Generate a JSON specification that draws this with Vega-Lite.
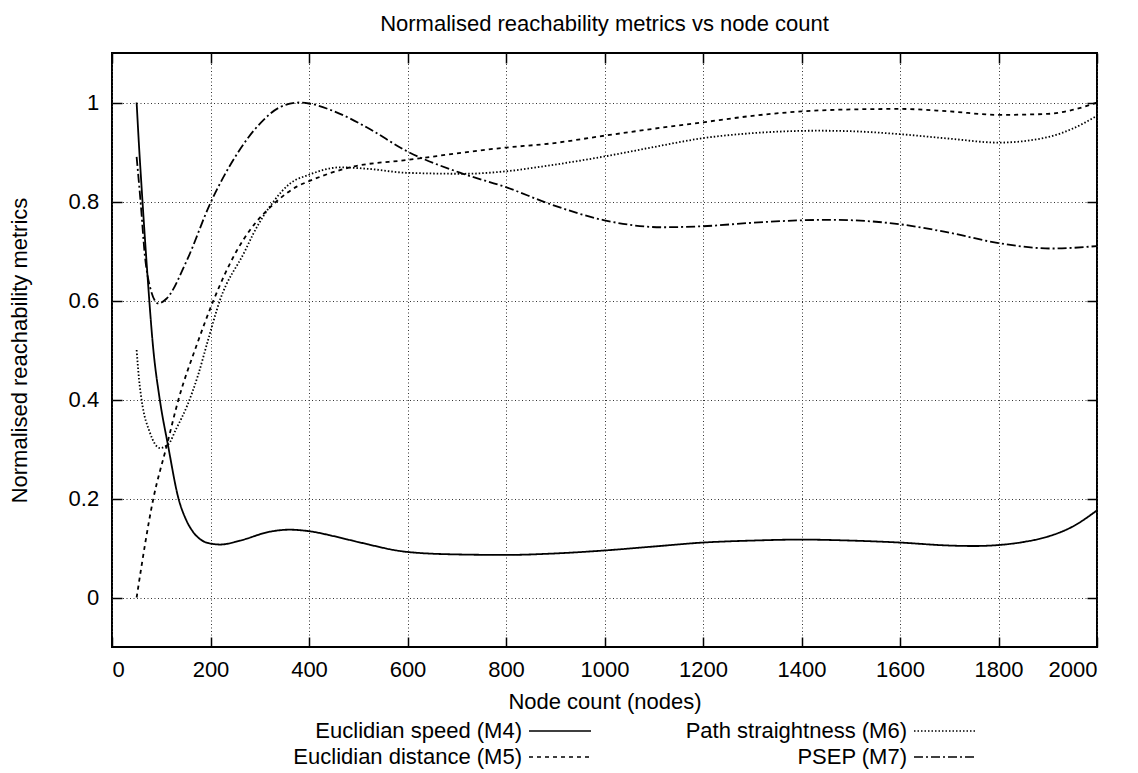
{
  "$schema": "https://vega.github.io/schema/vega-lite/v6.json",
  "width": 985,
  "height": 594,
  "autosize": {"type": "none"},
  "padding": {"left": 112, "top": 53, "right": 41, "bottom": 126},
  "background": "white",
  "title": {"text": "Normalised reachability metrics vs node count", "font": "Liberation Sans", "fontSize": 22, "fontWeight": "normal", "anchor": "middle", "offset": 23, "dy": 24, "baseline": "alphabetic", "color": "black"},
  "config": {"view": {"stroke": "black", "strokeWidth": 2}, "font": "Liberation Sans"},
  "data": {"values": [
    {"n":50,"v":1.0,"s":"Euclidian speed (M4)"},{"n":55,"v":0.91,"s":"Euclidian speed (M4)"},{"n":60,"v":0.83,"s":"Euclidian speed (M4)"},{"n":70,"v":0.68,"s":"Euclidian speed (M4)"},{"n":84,"v":0.50,"s":"Euclidian speed (M4)"},{"n":97,"v":0.40,"s":"Euclidian speed (M4)"},{"n":114,"v":0.306,"s":"Euclidian speed (M4)"},{"n":135,"v":0.20,"s":"Euclidian speed (M4)"},{"n":150,"v":0.158,"s":"Euclidian speed (M4)"},{"n":165,"v":0.132,"s":"Euclidian speed (M4)"},{"n":180,"v":0.117,"s":"Euclidian speed (M4)"},{"n":200,"v":0.109,"s":"Euclidian speed (M4)"},{"n":220,"v":0.107,"s":"Euclidian speed (M4)"},{"n":260,"v":0.115,"s":"Euclidian speed (M4)"},{"n":321,"v":0.133,"s":"Euclidian speed (M4)"},{"n":360,"v":0.137,"s":"Euclidian speed (M4)"},{"n":400,"v":0.134,"s":"Euclidian speed (M4)"},{"n":450,"v":0.124,"s":"Euclidian speed (M4)"},{"n":500,"v":0.112,"s":"Euclidian speed (M4)"},{"n":600,"v":0.092,"s":"Euclidian speed (M4)"},{"n":700,"v":0.087,"s":"Euclidian speed (M4)"},{"n":800,"v":0.086,"s":"Euclidian speed (M4)"},{"n":900,"v":0.089,"s":"Euclidian speed (M4)"},{"n":1000,"v":0.095,"s":"Euclidian speed (M4)"},{"n":1100,"v":0.103,"s":"Euclidian speed (M4)"},{"n":1200,"v":0.111,"s":"Euclidian speed (M4)"},{"n":1300,"v":0.115,"s":"Euclidian speed (M4)"},{"n":1400,"v":0.117,"s":"Euclidian speed (M4)"},{"n":1500,"v":0.115,"s":"Euclidian speed (M4)"},{"n":1600,"v":0.111,"s":"Euclidian speed (M4)"},{"n":1700,"v":0.105,"s":"Euclidian speed (M4)"},{"n":1750,"v":0.104,"s":"Euclidian speed (M4)"},{"n":1800,"v":0.106,"s":"Euclidian speed (M4)"},{"n":1850,"v":0.112,"s":"Euclidian speed (M4)"},{"n":1900,"v":0.123,"s":"Euclidian speed (M4)"},{"n":1950,"v":0.143,"s":"Euclidian speed (M4)"},{"n":2000,"v":0.176,"s":"Euclidian speed (M4)"},
    {"n":50,"v":0.0,"s":"Euclidian distance (M5)"},{"n":84,"v":0.20,"s":"Euclidian distance (M5)"},{"n":111,"v":0.306,"s":"Euclidian distance (M5)"},{"n":135,"v":0.40,"s":"Euclidian distance (M5)"},{"n":172,"v":0.51,"s":"Euclidian distance (M5)"},{"n":206,"v":0.60,"s":"Euclidian distance (M5)"},{"n":253,"v":0.70,"s":"Euclidian distance (M5)"},{"n":280,"v":0.742,"s":"Euclidian distance (M5)"},{"n":334,"v":0.80,"s":"Euclidian distance (M5)"},{"n":375,"v":0.830,"s":"Euclidian distance (M5)"},{"n":400,"v":0.841,"s":"Euclidian distance (M5)"},{"n":483,"v":0.869,"s":"Euclidian distance (M5)"},{"n":600,"v":0.884,"s":"Euclidian distance (M5)"},{"n":800,"v":0.909,"s":"Euclidian distance (M5)"},{"n":889,"v":0.917,"s":"Euclidian distance (M5)"},{"n":1000,"v":0.933,"s":"Euclidian distance (M5)"},{"n":1100,"v":0.947,"s":"Euclidian distance (M5)"},{"n":1200,"v":0.960,"s":"Euclidian distance (M5)"},{"n":1300,"v":0.973,"s":"Euclidian distance (M5)"},{"n":1400,"v":0.982,"s":"Euclidian distance (M5)"},{"n":1500,"v":0.986,"s":"Euclidian distance (M5)"},{"n":1600,"v":0.987,"s":"Euclidian distance (M5)"},{"n":1700,"v":0.982,"s":"Euclidian distance (M5)"},{"n":1800,"v":0.975,"s":"Euclidian distance (M5)"},{"n":1900,"v":0.977,"s":"Euclidian distance (M5)"},{"n":1950,"v":0.985,"s":"Euclidian distance (M5)"},{"n":2000,"v":1.0,"s":"Euclidian distance (M5)"},
    {"n":50,"v":0.50,"s":"Path straightness (M6)"},{"n":55,"v":0.44,"s":"Path straightness (M6)"},{"n":60,"v":0.40,"s":"Path straightness (M6)"},{"n":77,"v":0.333,"s":"Path straightness (M6)"},{"n":97,"v":0.302,"s":"Path straightness (M6)"},{"n":114,"v":0.309,"s":"Path straightness (M6)"},{"n":130,"v":0.34,"s":"Path straightness (M6)"},{"n":152,"v":0.386,"s":"Path straightness (M6)"},{"n":175,"v":0.45,"s":"Path straightness (M6)"},{"n":195,"v":0.52,"s":"Path straightness (M6)"},{"n":219,"v":0.60,"s":"Path straightness (M6)"},{"n":270,"v":0.70,"s":"Path straightness (M6)"},{"n":287,"v":0.735,"s":"Path straightness (M6)"},{"n":328,"v":0.80,"s":"Path straightness (M6)"},{"n":361,"v":0.836,"s":"Path straightness (M6)"},{"n":400,"v":0.854,"s":"Path straightness (M6)"},{"n":463,"v":0.869,"s":"Path straightness (M6)"},{"n":520,"v":0.866,"s":"Path straightness (M6)"},{"n":598,"v":0.858,"s":"Path straightness (M6)"},{"n":713,"v":0.856,"s":"Path straightness (M6)"},{"n":800,"v":0.861,"s":"Path straightness (M6)"},{"n":889,"v":0.873,"s":"Path straightness (M6)"},{"n":1000,"v":0.891,"s":"Path straightness (M6)"},{"n":1100,"v":0.910,"s":"Path straightness (M6)"},{"n":1200,"v":0.928,"s":"Path straightness (M6)"},{"n":1300,"v":0.938,"s":"Path straightness (M6)"},{"n":1433,"v":0.943,"s":"Path straightness (M6)"},{"n":1500,"v":0.942,"s":"Path straightness (M6)"},{"n":1600,"v":0.936,"s":"Path straightness (M6)"},{"n":1700,"v":0.927,"s":"Path straightness (M6)"},{"n":1800,"v":0.919,"s":"Path straightness (M6)"},{"n":1900,"v":0.930,"s":"Path straightness (M6)"},{"n":1950,"v":0.947,"s":"Path straightness (M6)"},{"n":2000,"v":0.973,"s":"Path straightness (M6)"},
    {"n":50,"v":0.89,"s":"PSEP (M7)"},{"n":58,"v":0.80,"s":"PSEP (M7)"},{"n":67,"v":0.688,"s":"PSEP (M7)"},{"n":77,"v":0.628,"s":"PSEP (M7)"},{"n":94,"v":0.594,"s":"PSEP (M7)"},{"n":111,"v":0.604,"s":"PSEP (M7)"},{"n":152,"v":0.681,"s":"PSEP (M7)"},{"n":199,"v":0.795,"s":"PSEP (M7)"},{"n":250,"v":0.89,"s":"PSEP (M7)"},{"n":300,"v":0.957,"s":"PSEP (M7)"},{"n":340,"v":0.99,"s":"PSEP (M7)"},{"n":380,"v":1.0,"s":"PSEP (M7)"},{"n":400,"v":0.998,"s":"PSEP (M7)"},{"n":449,"v":0.983,"s":"PSEP (M7)"},{"n":517,"v":0.950,"s":"PSEP (M7)"},{"n":598,"v":0.902,"s":"PSEP (M7)"},{"n":713,"v":0.856,"s":"PSEP (M7)"},{"n":800,"v":0.829,"s":"PSEP (M7)"},{"n":889,"v":0.795,"s":"PSEP (M7)"},{"n":1000,"v":0.762,"s":"PSEP (M7)"},{"n":1116,"v":0.748,"s":"PSEP (M7)"},{"n":1200,"v":0.750,"s":"PSEP (M7)"},{"n":1300,"v":0.757,"s":"PSEP (M7)"},{"n":1400,"v":0.762,"s":"PSEP (M7)"},{"n":1457,"v":0.763,"s":"PSEP (M7)"},{"n":1600,"v":0.754,"s":"PSEP (M7)"},{"n":1700,"v":0.737,"s":"PSEP (M7)"},{"n":1800,"v":0.716,"s":"PSEP (M7)"},{"n":1908,"v":0.705,"s":"PSEP (M7)"},{"n":2000,"v":0.710,"s":"PSEP (M7)"}
  ]},
  "resolve": {"axis": {"x": "independent", "y": "independent"}},
  "layer": [
    {
      "mark": {"type": "line", "color": "black", "strokeWidth": 1.8, "interpolate": "monotone"},
      "encoding": {
        "x": {"field": "n", "type": "quantitative", "scale": {"domain": [0, 2000], "nice": false},
          "axis": {"values": [0,200,400,600,800,1000,1200,1400,1600,1800,2000], "format": "d", "tickSize": -10, "tickColor": "black", "tickWidth": 1.5, "labelFontSize": 22, "labelColor": "black", "labelFont": "Liberation Sans", "labelPadding": 22.6, "domain": false, "grid": true, "gridColor": "#333", "gridDash": [1, 2.5], "gridWidth": 1, "title": "Node count (nodes)", "titleFontSize": 22, "titleFontWeight": "normal", "titleFont": "Liberation Sans", "titleColor": "black", "titleY": 61, "titleBaseline": "alphabetic"}},
        "y": {"field": "v", "type": "quantitative", "scale": {"domain": [-0.1, 1.1], "nice": false, "zero": false},
          "axis": {"values": [0,0.2,0.4,0.6,0.8,1], "format": "~g", "tickSize": -10, "tickColor": "black", "tickWidth": 1.5, "labelFontSize": 22, "labelColor": "black", "labelFont": "Liberation Sans", "labelPadding": 23.3, "domain": false, "grid": true, "gridColor": "#333", "gridDash": [1, 2.5], "gridWidth": 1, "title": "Normalised reachability metrics", "titleFontSize": 22, "titleFontWeight": "normal", "titleFont": "Liberation Sans", "titleColor": "black", "titleAngle": -90, "titleX": -86, "titleY": 297, "titleAlign": "center", "titleBaseline": "alphabetic"}},
        "strokeDash": {"field": "s", "type": "nominal",
          "scale": {"domain": ["Euclidian speed (M4)", "Path straightness (M6)", "Euclidian distance (M5)", "PSEP (M7)"], "range": [[1, 0], [1.5, 2], [4, 4], [9, 3, 2, 3]]},
          "legend": {"title": null, "orient": "none", "legendX": 166, "legendY": 667, "columns": 2, "direction": "horizontal", "symbolType": "M-3.1,0H3.1", "symbolSize": 400, "symbolStrokeWidth": 1.5, "symbolStrokeColor": "black", "labelFontSize": 22, "labelFont": "Liberation Sans", "labelColor": "black", "labelLimit": 400, "labelAlign": "right", "labelOffset": -49, "symbolOffset": 271, "columnPadding": 69, "rowPadding": 4, "padding": 0}}
      }
    },
    {
      "mark": {"type": "line", "opacity": 0},
      "encoding": {
        "x": {"field": "n", "type": "quantitative", "scale": {"domain": [0, 2000], "nice": false},
          "axis": {"orient": "top", "values": [0,200,400,600,800,1000,1200,1400,1600,1800,2000], "tickSize": -10, "tickColor": "black", "tickWidth": 1.5, "labels": false, "domain": false, "grid": false, "title": null}},
        "y": {"field": "v", "type": "quantitative", "scale": {"domain": [-0.1, 1.1], "nice": false, "zero": false},
          "axis": {"orient": "right", "values": [0,0.2,0.4,0.6,0.8,1], "tickSize": -10, "tickColor": "black", "tickWidth": 1.5, "labels": false, "domain": false, "grid": false, "title": null}},
        "detail": {"field": "s", "type": "nominal"}
      }
    }
  ]
}
